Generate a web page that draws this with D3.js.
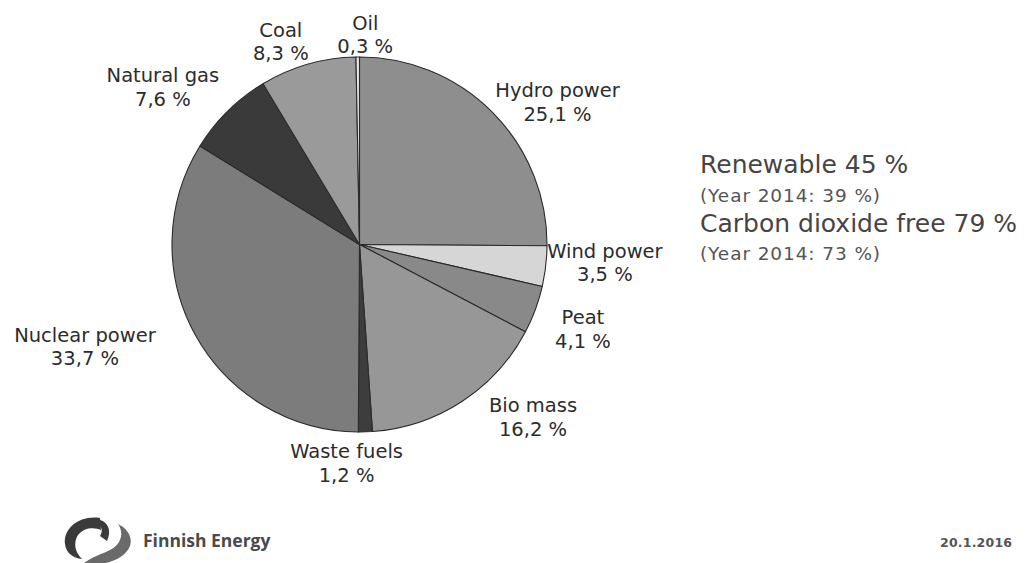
<!DOCTYPE html>
<html>
<head>
<meta charset="utf-8">
<script src="https://cdn.jsdelivr.net/npm/d3@7"></script>
<style>
  html, body { margin: 0; padding: 0; background: #ffffff; }
  svg { display: block; }
</style>
</head>
<body>
<svg id="chart" width="1029" height="563"></svg>
<script>
// Electricity production by energy source, 2015 (%)
const sources = ["Hydro power", "Wind power", "Peat", "Bio mass", "Waste fuels",
                 "Nuclear power", "Natural gas", "Coal", "Oil"];
const shares  = [25.1, 3.5, 4.1, 16.2, 1.2, 33.7, 7.6, 8.3, 0.3];

// Summary figures shown beside the pie
const summaryLines = ["Renewable 45 %", "(Year 2014: 39 %)",
                      "Carbon dioxide free 79 %", "(Year 2014: 73 %)"];
const footerDate = "20.1.2016";
const brandName = "Finnish Energy";

// Grey fill for each slice, in slice order
const fills = ["#8e8e8e", "#d6d6d6", "#898989", "#979797", "#3d3d3d",
               "#7c7c7c", "#3a3a3a", "#9a9a9a", "#e6e6e6"];

// Label placement: angular shift from the slice middle (degrees) and distance from centre
const labelShift = [8.9, -2.6, 0.2, -12.2, 5.2, 8.7, -6.5, -5.1, 2.1];
const labelDist  = [244.5, 246, 238.6, 244, 217.9, 292.7, 252.5, 218.4, 210.6];

const fmt = v => d3.format(".1f")(v).replace(".", ",") + " %";

const svg = d3.select("#chart");
const cx = 359.5, cy = 244.5, R = 187.5;

const rows = sources.map((s, i) => ({ source: s, share: shares[i], i }));

const pie = d3.pie().sort(null).value(d => d.share).startAngle(0).endAngle(2 * Math.PI);
const arcs = pie(rows);
const arc = d3.arc().innerRadius(0).outerRadius(R);

const color = d3.scaleOrdinal().domain(sources).range(fills);

const g = svg.append("g").attr("transform", `translate(${cx},${cy})`);

g.selectAll("path.slice")
  .data(arcs)
  .join("path")
  .attr("class", "slice")
  .attr("d", arc)
  .attr("fill", d => color(d.data.source))
  .attr("stroke", "#2a2a2a")
  .attr("stroke-width", 1.1)
  .attr("stroke-linejoin", "round");

// Slice labels: name on the first line, share on the second
const labelFont = "'DejaVu Sans', Verdana, sans-serif";
const lbl = g.selectAll("g.label")
  .data(arcs)
  .join("g")
  .attr("class", "label")
  .attr("transform", d => {
    const mid = (d.startAngle + d.endAngle) / 2 + labelShift[d.data.i] * Math.PI / 180;
    const r = labelDist[d.data.i];
    return `translate(${r * Math.sin(mid)},${-r * Math.cos(mid)})`;
  });

lbl.append("text")
  .attr("y", -4)
  .attr("text-anchor", "middle")
  .attr("font-family", labelFont)
  .attr("font-size", 19.5)
  .attr("fill", "#2c2c2c")
  .text(d => d.data.source);

lbl.append("text")
  .attr("y", 19.5)
  .attr("text-anchor", "middle")
  .attr("font-family", labelFont)
  .attr("font-size", 19.5)
  .attr("fill", "#2c2c2c")
  .text(d => fmt(d.data.share));

// Summary block on the right
const summaryY = [173, 201.5, 231.7, 260];
const summaryBig = [true, false, true, false];
svg.append("g")
  .selectAll("text")
  .data(summaryLines)
  .join("text")
  .attr("x", 700)
  .attr("y", (d, i) => summaryY[i])
  .attr("font-family", labelFont)
  .attr("font-size", (d, i) => summaryBig[i] ? 25 : 18.5)
  .attr("letter-spacing", (d, i) => summaryBig[i] ? 0 : 0.9)
  .attr("fill", (d, i) => summaryBig[i] ? "#454545" : "#555555")
  .text(d => d);

// Footer: logo mark, brand name and date
const logo = svg.append("g");
logo.append("path")
  .attr("d", "M100 518 C80 515 63 528 65 544 C66 553 73 558 82 559 C75 552 73 543 78 535 C84 527 95 527 101 530 Z")
  .attr("fill", "#3a3a3a");
logo.append("path")
  .attr("d", "M100 520 C108 522 112 531 107 541 L100 536 C103 531 102 527 98 524 Z")
  .attr("fill", "#3a3a3a");
logo.append("path")
  .attr("d", "M84 563 C100 567 124 561 130 546 C133 537 127 528 118 524 C124 532 122 544 110 550 C102 554 92 557 84 563 Z")
  .attr("fill", "#6a6a6a");

svg.append("text")
  .attr("x", 143)
  .attr("y", 547)
  .attr("font-family", "'Open Sans', 'Noto Sans', sans-serif")
  .attr("font-weight", 700)
  .attr("font-size", 17.5)
  .attr("fill", "#4a4a4a")
  .text(brandName);

svg.append("text")
  .attr("x", 940)
  .attr("y", 547)
  .attr("font-family", labelFont)
  .attr("font-weight", 700)
  .attr("font-size", 12.5)
  .attr("letter-spacing", 0.2)
  .attr("fill", "#555555")
  .text(footerDate);
</script>
</body>
</html>
